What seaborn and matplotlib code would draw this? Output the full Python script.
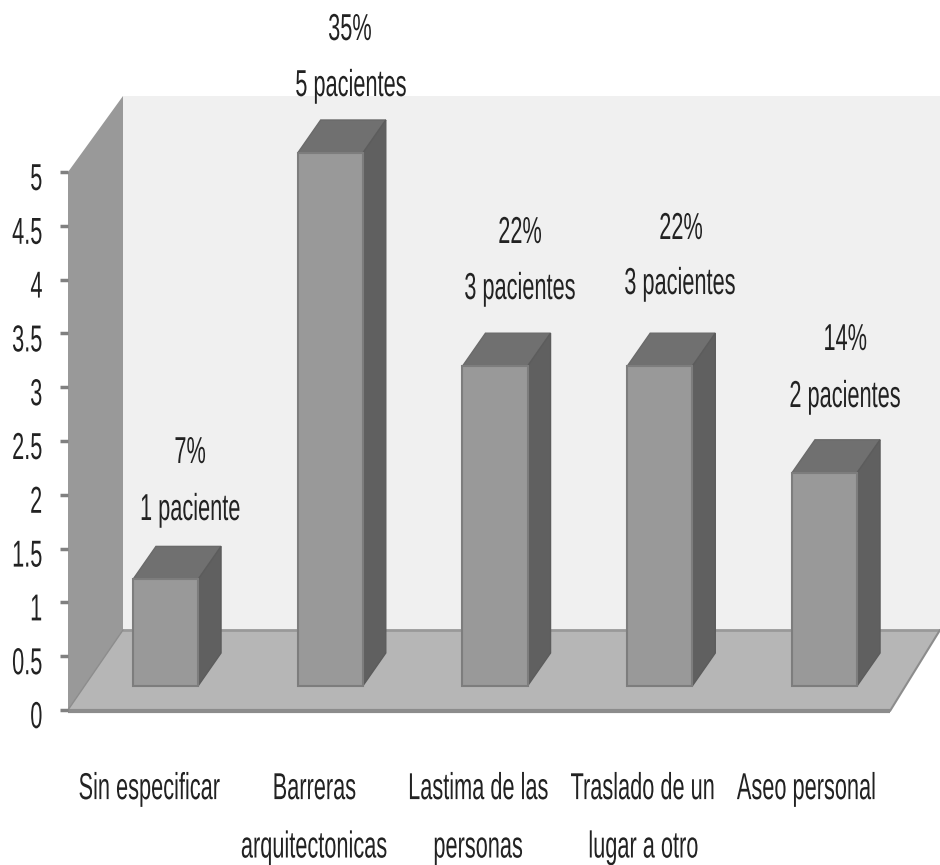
import matplotlib
matplotlib.use("Agg")
import matplotlib.pyplot as plt
from matplotlib.patches import Polygon
from matplotlib.patheffects import AbstractPathEffect
from matplotlib.transforms import Affine2D, ScaledTranslation
import pandas as pd
import seaborn as sns

categories = ["Sin especificar", "Barreras\narquitectonicas", "Lastima de las\npersonas",
              "Traslado de un\nlugar a otro", "Aseo personal"]
patients = [1, 5, 3, 3, 2]
percents = ["7%", "35%", "22%", "22%", "14%"]
patient_labels = ["1 paciente", "5 pacientes", "3 pacientes", "3 pacientes", "2 pacientes"]
y_ticks = [0, 0.5, 1, 1.5, 2, 2.5, 3, 3.5, 4, 4.5, 5]
y_tick_labels = ["0", "0.5", "1", "1.5", "2", "2.5", "3", "3.5", "4", "4.5", "5"]

W, H = 940, 865
FS = 27
SQUEEZE = 0.58
TXT = "#222222"

# pixel layout
cat_label_x = [149, 314, 478, 643, 807]
pct_pos = [(190, 453), (350, 30), (520, 233), (681, 229), (845, 340)]
pat_pos = [(190, 510), (351, 86), (520, 289), (680, 284), (845, 397)]


# the chart's font is a tall narrow one, so squeeze each line of text sideways
class Squeeze(AbstractPathEffect):
    def __init__(self, sx, anchor=0.5):
        super().__init__()
        self.sx = sx
        self.anchor = anchor

    def draw_path(self, renderer, gc, tpath, affine, rgbFace=None):
        ext = tpath.get_extents()
        px = ext.x0 + self.anchor * ext.width
        cx = affine.transform_point((px, 0))[0]
        squeezed = affine + Affine2D().translate(-cx, 0).scale(self.sx, 1).translate(cx, 0)
        renderer.draw_path(gc, tpath, squeezed, rgbFace)


def px_axes(x0, x1, y_top, y_bottom):
    return fig.add_axes([x0 / W, 1 - y_bottom / H, (x1 - x0) / W, (y_bottom - y_top) / H])


sns.set_theme(style="white")
plt.rcParams['font.family'] = ["Liberation Sans", "DejaVu Sans"]
fig = plt.figure(figsize=(W / 100, H / 100), dpi=100)

# background: walls and floor, in pixels
bg = fig.add_axes([0, 0, 1, 1])
bg.set_xlim(0, W)
bg.set_ylim(H, 0)
bg.axis("off")
bg.add_patch(Polygon([(123, 96), (940, 96), (940, 630), (123, 630)], fc="#f0f0f0", ec="none"))
bg.add_patch(Polygon([(68, 172), (123, 96), (123, 630), (68, 710)], fc="#999999", ec="none"))
bg.add_patch(Polygon([(68, 710), (123, 630), (940, 630), (890, 710)], fc="#b6b6b6", ec="none"))
bg.plot([123, 940], [630, 630], color="#999999", lw=2)
bg.plot([68, 890], [711, 711], color="#8c8c8c", lw=3, solid_capstyle="butt")
bg.plot([890, 940], [711, 630], color="#8c8c8c", lw=1.5)
bg.plot([68, 123], [710, 630], color="#8c8c8c", lw=1)

# value axis and category labels
ax = px_axes(68, 890, 172, 710)
ax.patch.set_alpha(0)
ax.set_xlim(68, 890)
ax.set_ylim(0, 5)
ax.set_yticks(y_ticks, y_tick_labels, fontsize=FS, color=TXT)
ax.set_xticks(cat_label_x, categories, fontsize=FS, color=TXT, linespacing=1.8, va="top")
ax.tick_params(axis="y", length=6, width=2.5, color="#808080", left=True, pad=12)
ax.tick_params(axis="x", length=0, pad=44)
sns.despine(ax=ax, left=True, bottom=True, top=True, right=True)
down = ScaledTranslation(0, -4 / 100, fig.dpi_scale_trans)
for lab in ax.get_yticklabels():
    lab.set_transform(lab.get_transform() + down)
    lab.set_path_effects([Squeeze(SQUEEZE, anchor=1)])
for lab in ax.get_xticklabels():
    lab.set_path_effects([Squeeze(SQUEEZE)])

# bars
bar_ax = px_axes(68, 890, 153, 686)
bar_ax.patch.set_alpha(0)
df = pd.DataFrame({"cat": categories, "n": patients})
sns.barplot(data=df, x="cat", y="n", ax=bar_ax, color="#999999", saturation=1, width=0.395,
            edgecolor="#7d7d7d", linewidth=1.5, zorder=3)
step = 164.75
bar_ax.set_xlim((68 - 165.5) / step, (890 - 165.5) / step)
bar_ax.set_ylim(0, 5)
bar_ax.axis("off")

dx = 23 / step
dy = 33 / (533 / 5)
for bar in bar_ax.patches:
    x0, w, h = bar.get_x(), bar.get_width(), bar.get_height()
    x1 = x0 + w
    top = [(x0, h), (x1, h), (x1 + dx, h + dy), (x0 + dx, h + dy)]
    side = [(x1, 0), (x1 + dx, dy), (x1 + dx, h + dy), (x1, h)]
    bar_ax.add_patch(Polygon(top, fc="#707070", ec="#6a6a6a", lw=1, clip_on=False, zorder=2))
    bar_ax.add_patch(Polygon(side, fc="#606060", ec="#5c5c5c", lw=1, clip_on=False, zorder=2))
    bar.set_clip_on(False)

# labels over the bars
for txt, (x, y) in zip(percents, pct_pos):
    fig.text(x / W, 1 - y / H, txt, ha="center", va="center", fontsize=FS, color=TXT,
             path_effects=[Squeeze(SQUEEZE)])
for txt, (x, y) in zip(patient_labels, pat_pos):
    fig.text(x / W, 1 - y / H, txt, ha="center", va="center", fontsize=FS, color=TXT,
             path_effects=[Squeeze(SQUEEZE)])

fig.savefig("out.png", dpi=100, facecolor="white")
